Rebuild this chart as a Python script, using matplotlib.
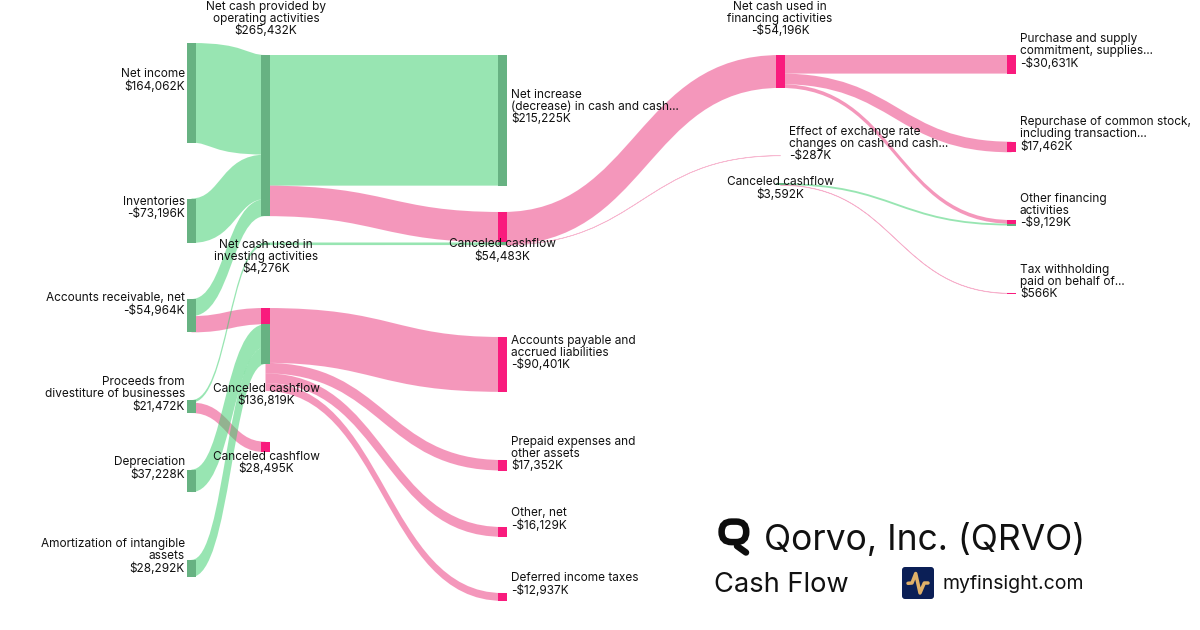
import matplotlib
matplotlib.use("Agg")
import matplotlib.pyplot as plt
from matplotlib.path import Path
from matplotlib.patches import PathPatch, Rectangle, FancyBboxPatch

# ---------- data ----------
node_names = ["Net income", "Inventories", "Accounts receivable, net",
              "Proceeds from divestiture", "Depreciation", "Amortization",
              "Operating", "Investing", "Canceled 136819", "Canceled 28495",
              "Net increase", "Canceled 54483", "Accounts payable", "Prepaid",
              "Other net", "Deferred",
              "Financing", "Exchange", "Canceled 3592",
              "Purchase", "Repurchase", "Other financing", "Tax"]
node_labels = ["Net income\n$164,062K", "Inventories\n-$73,196K",
               "Accounts receivable, net\n-$54,964K",
               "Proceeds from\ndivestiture of businesses\n$21,472K",
               "Depreciation\n$37,228K",
               "Amortization of intangible\nassets\n$28,292K",
               "Net cash provided by\noperating activities\n$265,432K",
               "Net cash used in\ninvesting activities\n$4,276K",
               "Canceled cashflow\n$136,819K", "Canceled cashflow\n$28,495K",
               "Net increase\n(decrease) in cash and cash...\n$215,225K",
               "Canceled cashflow\n$54,483K",
               "Accounts payable and\naccrued liabilities\n-$90,401K",
               "Prepaid expenses and\nother assets\n$17,352K",
               "Other, net\n-$16,129K", "Deferred income taxes\n-$12,937K",
               "Net cash used in\nfinancing activities\n-$54,196K",
               "Effect of exchange rate\nchanges on cash and cash...\n-$287K",
               "Canceled cashflow\n$3,592K",
               "Purchase and supply\ncommitment, supplies...\n-$30,631K",
               "Repurchase of common stock,\nincluding transaction...\n$17,462K",
               "Other financing\nactivities\n-$9,129K",
               "Tax withholding\npaid on behalf of...\n$566K"]
link_source = ["Net income", "Inventories", "Accounts receivable, net",
               "Accounts receivable, net", "Proceeds from divestiture",
               "Proceeds from divestiture", "Depreciation", "Amortization",
               "Operating", "Operating", "Investing",
               "Canceled 136819", "Canceled 136819", "Canceled 136819", "Canceled 136819",
               "Canceled 54483", "Canceled 54483",
               "Financing", "Financing", "Financing",
               "Canceled 3592", "Canceled 3592"]
link_target = ["Operating", "Operating", "Operating",
               "Canceled 136819", "Investing",
               "Canceled 28495", "Canceled 136819", "Canceled 136819",
               "Net increase", "Canceled 54483", "Canceled 54483",
               "Accounts payable", "Prepaid", "Other net", "Deferred",
               "Financing", "Exchange",
               "Purchase", "Repurchase", "Other financing",
               "Other financing", "Tax"]
link_values = [164062, 73196, 28174, 26790, 4276, 17196, 37228, 28292,
               215225, 50207, 4276,
               90401, 17352, 16129, 12937,
               54196, 287,
               30631, 17462, 6103,
               3026, 566]
link_positive = [True, True, True, False, True, False, True, True,
                 True, False, True,
                 False, False, False, False,
                 False, False,
                 False, False, False,
                 True, False]

# ---------- layout (pixels) ----------
W, H = 1200, 630
PX_PER_K = 0.000607
col_x = [187, 261, 498, 776, 1007]
NODE_W = 9
node_col = {"Net income": 0, "Inventories": 0, "Accounts receivable, net": 0,
            "Proceeds from divestiture": 0, "Depreciation": 0, "Amortization": 0,
            "Operating": 1, "Investing": 1, "Canceled 136819": 1, "Canceled 28495": 1,
            "Net increase": 2, "Canceled 54483": 2, "Accounts payable": 2,
            "Prepaid": 2, "Other net": 2, "Deferred": 2,
            "Financing": 3, "Exchange": 3, "Canceled 3592": 3,
            "Purchase": 4, "Repurchase": 4, "Other financing": 4, "Tax": 4}
node_top = {"Net income": 43, "Inventories": 198.5, "Accounts receivable, net": 299,
            "Proceeds from divestiture": 400, "Depreciation": 469.5, "Amortization": 559.8,
            "Operating": 55, "Investing": 242.5, "Canceled 136819": 308, "Canceled 28495": 441.7,
            "Net increase": 55, "Canceled 54483": 212, "Accounts payable": 337,
            "Prepaid": 460, "Other net": 527, "Deferred": 593,
            "Financing": 55, "Exchange": 155.6, "Canceled 3592": 183.2,
            "Purchase": 55, "Repurchase": 141.7, "Other financing": 220, "Tax": 293.3}
# (x, y centre of label block, ha)
label_pos = {"Net income": (185, 80.6, "right"), "Inventories": (185, 208, "right"),
             "Accounts receivable, net": (185, 304.5, "right"),
             "Proceeds from divestiture": (185, 394.6, "right"),
             "Depreciation": (185, 468.6, "right"), "Amortization": (185, 556.6, "right"),
             "Operating": (266, 19, "center"), "Investing": (266, 257, "center"),
             "Canceled 136819": (266, 395, "center"), "Canceled 28495": (266, 463, "center"),
             "Net increase": (511, 107, "left"), "Canceled 54483": (502, 250.6, "center"),
             "Accounts payable": (511, 353, "left"), "Prepaid": (511, 454, "left"),
             "Other net": (511, 519.6, "left"), "Deferred": (511, 584.6, "left"),
             "Financing": (780, 19, "center"), "Exchange": (789, 144, "left"),
             "Canceled 3592": (780, 188.6, "center"),
             "Purchase": (1020, 51.6, "left"), "Repurchase": (1020, 134.6, "left"),
             "Other financing": (1020, 211, "left"), "Tax": (1020, 282, "left")}

LINK_GREEN, LINK_PINK = "#33cd67", "#eb3179"
NODE_GREEN, NODE_PINK = "#67b282", "#f91b7d"
FONT = "Inter"
TAPER = 0.17     # shifts the edge curves so steep parts of a ribbon keep some width

fig = plt.figure(figsize=(W / 100, H / 100), dpi=100)
ax = fig.add_axes([0, 0, 1, 1])
ax.set_xlim(0, W)
ax.set_ylim(H, 0)
ax.axis("off")

out_off = {n: 0.0 for n in node_names}
in_off = {n: 0.0 for n in node_names}
segments = []

for src, tgt, val, pos in zip(link_source, link_target, link_values, link_positive):
    h = val * PX_PER_K
    x0 = col_x[node_col[src]] + NODE_W / 2
    x1 = col_x[node_col[tgt]] + NODE_W / 2
    y0 = node_top[src] + out_off[src]
    y1 = node_top[tgt] + in_off[tgt]
    out_off[src] += h
    in_off[tgt] += h
    xm = (x0 + x1) / 2
    s = TAPER * h * (1 if y1 > y0 else -1)
    verts = [(x0, y0), (xm + s, y0), (xm + s, y1), (x1, y1),
             (x1, y1 + h), (xm - s, y1 + h), (xm - s, y0 + h), (x0, y0 + h), (x0, y0)]
    codes = [Path.MOVETO, Path.CURVE4, Path.CURVE4, Path.CURVE4,
             Path.LINETO, Path.CURVE4, Path.CURVE4, Path.CURVE4, Path.CLOSEPOLY]
    colour = LINK_GREEN if pos else LINK_PINK
    thin = h < 1
    ax.add_patch(PathPatch(Path(verts, codes), facecolor=colour, alpha=0.3 if thin else 0.5,
                           edgecolor=colour if thin else "none",
                           linewidth=0.5 if thin else 0, zorder=2))
    segments.append((tgt, y1, h, pos))

# target-side node segments, coloured by the incoming link
for tgt, y, h, pos in segments:
    ax.add_patch(Rectangle((col_x[node_col[tgt]], y), NODE_W, h,
                           facecolor=NODE_GREEN if pos else NODE_PINK,
                           edgecolor="none", zorder=3))
# source-only nodes
for n in node_names:
    if in_off[n] == 0:
        ax.add_patch(Rectangle((col_x[node_col[n]], node_top[n]), NODE_W, out_off[n],
                               facecolor=NODE_GREEN, edgecolor="none", zorder=3))

for n, lab in zip(node_names, node_labels):
    x, y, ha = label_pos[n]
    ax.text(x, y, lab, ha=ha, va="center", fontsize=8.52, family=FONT, color="#111111",
            linespacing=1.02, zorder=5, multialignment=ha)

# ---------- branding ----------
ax.text(764.5, 539.5, "Qorvo, Inc. (QRVO)", fontsize=25.5, family=FONT, color="#111111",
        va="center", ha="left", zorder=5)
ax.text(714.5, 584.5, "Cash Flow", fontsize=19.6, family=FONT, color="#111111",
        va="center", ha="left", zorder=5)
ax.text(942.5, 584, "myfinsight.com", fontsize=14.0, family=FONT, color="#111111",
        va="center", ha="left", zorder=5)

# Q mark
ax.add_patch(FancyBboxPatch((721.6, 521.6), 24.6, 20.5, boxstyle="round,pad=0,rounding_size=10",
                            facecolor="none", edgecolor="#0d0d0d", linewidth=4.7, zorder=5))
ax.plot([737, 746], [546, 552.5], color="#0d0d0d", lw=4.7, solid_capstyle="round", zorder=5)

# myfinsight mark
ax.add_patch(FancyBboxPatch((902, 567), 32, 32, boxstyle="round,pad=0,rounding_size=3",
                            facecolor="#0b1f56", edgecolor="none", zorder=5))
ax.plot([908, 912, 915.7, 920, 924.3, 928], [583.3, 583, 573.5, 593, 583, 583],
        color="#e0b068", lw=2.5, solid_joinstyle="round", solid_capstyle="round", zorder=6)

fig.savefig("out.png", dpi=100, facecolor="white")
